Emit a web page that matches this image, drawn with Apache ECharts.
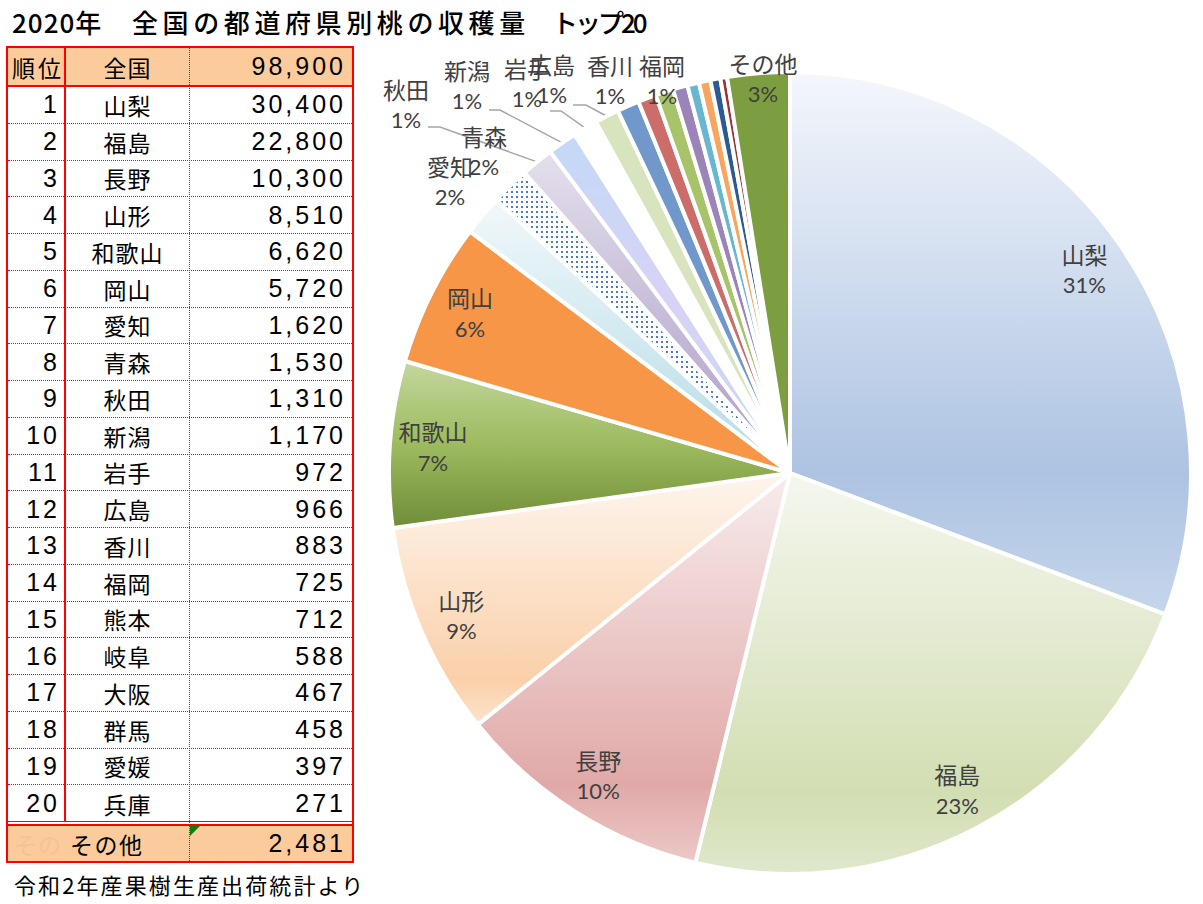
<!DOCTYPE html>
<html>
<head>
<meta charset="utf-8">
<title>2020年 全国の都道府県別桃の収穫量 トップ20</title>
<script src="https://cdn.jsdelivr.net/npm/echarts@6/dist/echarts.min.js"></script>
<style>
  html, body { margin: 0; padding: 0; background: #fff; }
  #page { position: relative; width: 1203px; height: 904px; overflow: hidden; }
  #chart { position: absolute; left: 0; top: 0; width: 1203px; height: 904px; }
  .title { position: absolute; top: 6px; font-family: "Noto Sans CJK JP"; font-size: 26px; font-weight: 500;
           line-height: 32px; color: #000; white-space: nowrap; }
  #tbl { position: absolute; left: 6px; top: 46px; width: 344px; height: 813px; border: 2px solid #f00; }
  #tbl div { position: absolute; box-sizing: border-box; }
  .row { left: 0; width: 344px; }
  .cell { top: 0; height: 100%; display: flex; align-items: center; white-space: nowrap; color: #000; }
  .num { font-family: "Liberation Sans"; font-size: 25px; letter-spacing: 3px; }
  .jp { font-family: "Noto Sans CJK JP"; font-size: 23px; letter-spacing: 1px; }
  .note { position: absolute; left: 14px; top: 869px; line-height: 30px; font-family: "Noto Sans CJK JP";
          font-size: 22px; letter-spacing: 2.1px; color: #000; white-space: nowrap; }
</style>
</head>
<body>
<div id="page">
  <div id="chart"></div>
  <div id="titles"></div>
  <div id="tbl"></div>
  <div class="note" id="note"></div>
</div>
<script>
// ---- data ----
const prefectures = ['山梨', '福島', '長野', '山形', '和歌山', '岡山', '愛知', '青森', '秋田', '新潟',
                     '岩手', '広島', '香川', '福岡', '熊本', '岐阜', '大阪', '群馬', '愛媛', '兵庫'];
const harvest = [30400, 22800, 10300, 8510, 6620, 5720, 1620, 1530, 1310, 1170,
                 972, 966, 883, 725, 712, 588, 467, 458, 397, 271];
const otherName = 'その他';
const otherHarvest = 2481;
const nationalName = '全国';
const nationalHarvest = 98900;
const rankHeader = '順位';
const titleParts = ['2020年', '全国の都道府県別桃の収穫量', 'トップ20'];
const sourceNote = '令和2年産果樹生産出荷統計より';

// which slices get a label, and where (layout only)
const insideLabelNames = ['山梨', '福島', '長野', '山形', '和歌山', '岡山'];
const outsideLabelAt = {
  '愛知': [450, 181], '青森': [484, 151], '秋田': [406, 104], '新潟': [467, 85], '岩手': [527, 83],
  '広島': [552, 79], '香川': [610, 80], '福岡': [662, 80], 'その他': [763, 78]
};
const leaderBend = {
  '秋田': [[440, 127], [428, 127]],
  '新潟': [[500, 110], [489, 110]],
  '岩手': [[561, 111], [550, 111]],
  '広島': [[586, 105], [573, 105]]
};

// ---- title, note, table ----
const titleLeft = [12, 132, 552];
const titleSpacing = ['1px', '4.6px', '-3px'];
titleParts.forEach((t, i) => {
  const s = document.createElement('div');
  s.className = 'title';
  s.style.left = titleLeft[i] + 'px';
  s.style.letterSpacing = titleSpacing[i];
  s.textContent = t;
  document.getElementById('titles').appendChild(s);
});
document.getElementById('note').textContent = sourceNote;

const fmt = v => v.toLocaleString('en-US');
const tbl = document.getElementById('tbl');
const PEACH = '#fccb9c';
function el(parent, css, cls, text) {
  const d = document.createElement('div');
  if (cls) d.className = cls;
  d.style.cssText = css;
  if (text != null) d.textContent = text;
  parent.appendChild(d);
  return d;
}
function addRow(top, h, rank, name, value, opts) {
  const r = el(tbl, `top:${top}px;height:${h}px;` + (opts.css || ''), 'row');
  if (rank != null) el(r, opts.rankCss || 'left:0;width:56px;justify-content:flex-end;padding-right:4px;',
                       'cell ' + (opts.rankCls || 'num'), rank);
  el(r, opts.nameCss || 'left:58px;width:123px;justify-content:center;', 'cell jp', name);
  el(r, 'left:182px;width:162px;justify-content:flex-end;padding-right:6px;', 'cell num', value);
  return r;
}
// header
addRow(0, 37, rankHeader, nationalName, fmt(nationalHarvest), {
  css: `background:${PEACH};`,
  rankCls: 'jp', rankCss: 'left:4px;width:56px;letter-spacing:3px;'
});
el(tbl, 'left:0;top:37px;width:344px;height:2px;background:#f00;');
// prefectures
const ROW_H = 36.75;
prefectures.forEach((p, i) => {
  addRow(39 + i * ROW_H, ROW_H, String(i + 1), p, fmt(harvest[i]), {
    css: i < prefectures.length - 1 ? 'border-bottom:1px dotted #f00;' : ''
  });
});
const tableEnd = 39 + prefectures.length * ROW_H;
el(tbl, `left:0;top:${tableEnd - 1}px;width:344px;height:1px;background:#f00;`);
el(tbl, `left:0;top:${tableEnd + 2}px;width:344px;height:2px;background:#f00;`);
// その他 row
const other = addRow(tableEnd + 4, 813 - tableEnd - 4, null, otherName, fmt(otherHarvest), {
  css: `background:${PEACH};`,
  nameCss: 'left:62px;width:100px;letter-spacing:1.5px;'
});
el(other, 'left:6px;color:#f7c194;', 'cell jp', 'その');
el(other, 'left:182px;top:0;width:0;height:0;border-top:10px solid #0a800a;border-right:10px solid transparent;');
// column rules
el(tbl, `left:56px;top:0;width:2px;height:${tableEnd}px;background:#f00;`);
el(tbl, 'left:181px;top:0;width:1px;height:813px;border-left:1px dotted #f00;');

// ---- pie ----
const CX = 790, CY = 473, R = 401;
const pieData = prefectures.map((n, i) => ({ name: n, value: harvest[i] }))
  .concat([{ name: otherName, value: otherHarvest }]);

function lin(stops) {
  return { type: 'linear', x: 0, y: 0, x2: 0, y2: 1,
           colorStops: stops.map(s => ({ offset: s[0], color: s[1] })) };
}
function dotTile() {
  const c = document.createElement('canvas');
  c.width = 5; c.height = 5;
  const g = c.getContext('2d');
  g.fillStyle = '#fff'; g.fillRect(0, 0, 5, 5);
  g.fillStyle = '#4a7cc0'; g.fillRect(1, 1, 2, 2);
  return { image: c, repeat: 'repeat', imageWidth: 5, imageHeight: 5 };
}
const sliceFills = [
  lin([[0, '#f4f7fc'], [0.74, '#adc3e2'], [1, '#c6d6eb']]),
  lin([[0, '#f5f7ef'], [0.8, '#d2deb2'], [1, '#dfe8cc']]),
  lin([[0, '#f8ecec'], [0.8, '#e0a9a8'], [1, '#ecc9c8']]),
  lin([[0, '#fef5ee'], [0.82, '#fad0a9'], [1, '#fde3cd']]),
  lin([[0, '#c4d79e'], [0.5, '#9dbb5e'], [1, '#6f8c37']]),
  '#f79646',
  lin([[0, '#f1f8fa'], [1, '#b3dbe6']]),
  dotTile(),
  lin([[0, '#e4dfec'], [1, '#ab9bc6']]),
  lin([[0, '#c3d9f5'], [0.5, '#d8d2f6'], [1, '#c3dcf3']]),
  '#ffffff',
  '#d7e4bd',
  '#7098cb',
  '#cd6d6a',
  '#a7c46b',
  '#9a84b8',
  '#66b7cf',
  '#f9a45f',
  '#2d5a92',
  '#9b3532',
  '#7d9d41'
];

const pct = v => Math.round(v / nationalHarvest * 100) + '%';
const labelText = p => `{n|${p.name}}\n{p|${pct(p.value)}}`;
const rich = {
  n: { fontFamily: 'Noto Sans CJK JP', fontSize: 23, color: '#404040', lineHeight: 31 },
  p: { fontFamily: 'Lato', fontSize: 22, color: '#404040', lineHeight: 31 }
};

// point on the outer edge at a slice's mid angle, for the leader lines
const pieTotal = pieData.reduce((s, d) => s + d.value, 0);
function edgePoint(idx) {
  let before = 0;
  for (let i = 0; i < idx; i++) before += pieData[i].value;
  const a = (before + pieData[idx].value / 2) / pieTotal * 2 * Math.PI;
  return [CX + R * Math.sin(a), CY - R * Math.cos(a)];
}

const mainData = pieData.map((d, i) => {
  const item = { name: d.name, value: d.value, itemStyle: { color: sliceFills[i] } };
  if (outsideLabelAt[d.name]) {
    item.label = { show: true };
    item.labelLine = { show: !!leaderBend[d.name] };
  }
  return item;
});
const ringData = pieData.map(d => ({
  name: d.name, value: d.value,
  label: { show: insideLabelNames.includes(d.name) }
}));

const chart = echarts.init(document.getElementById('chart'), null, { renderer: 'svg' });
chart.setOption({
  animation: false,
  backgroundColor: '#fff',
  series: [
    {
      type: 'pie',
      center: [CX, CY],
      radius: [0, R],
      startAngle: 90,
      clockwise: true,
      avoidLabelOverlap: false,
      silent: true,
      itemStyle: { borderColor: '#fff', borderWidth: 4 },
      label: { show: false, position: 'outside', formatter: labelText, rich: rich, color: '#404040' },
      labelLine: { show: true, lineStyle: { color: '#a6a6a6', width: 1.5 } },
      labelLayout: function (params) {
        const name = pieData[params.dataIndex].name;
        const at = outsideLabelAt[name];
        if (!at) return {};
        const res = { x: at[0], y: at[1], align: 'center', verticalAlign: 'middle' };
        if (leaderBend[name]) {
          res.labelLinePoints = [edgePoint(params.dataIndex), leaderBend[name][0], leaderBend[name][1]];
        }
        return res;
      },
      data: mainData
    },
    {
      // transparent ring that only carries the inside labels
      type: 'pie',
      center: [CX, CY],
      radius: [R - 92, R],
      startAngle: 90,
      clockwise: true,
      avoidLabelOverlap: false,
      silent: true,
      itemStyle: { color: 'rgba(0,0,0,0)', borderWidth: 0 },
      label: { show: false, position: 'inside', formatter: labelText, rich: rich, color: '#404040' },
      labelLine: { show: false },
      data: ringData
    }
  ]
});
</script>
</body>
</html>
